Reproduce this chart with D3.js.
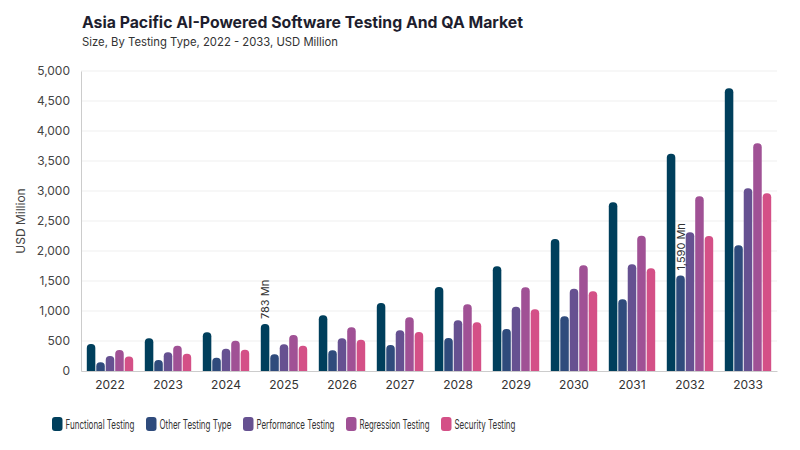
<!DOCTYPE html>
<html>
<head>
<meta charset="utf-8">
<script src="https://cdn.jsdelivr.net/npm/d3@7"></script>
<style>
  body { margin: 0; background: #fff; font-family: Inter, "Noto Sans", sans-serif; }
  svg text { font-family: Inter, "Noto Sans", sans-serif; }
</style>
</head>
<body>
<svg id="chart" width="800" height="450"></svg>
<script>
// data
var years = ["2022","2023","2024","2025","2026","2027","2028","2029","2030","2031","2032","2033"];
var seriesNames = ["Functional Testing", "Other Testing Type", "Performance Testing", "Regression Testing", "Security Testing"];
var functional  = [450, 545, 645, 783, 928, 1133, 1400, 1744, 2200, 2811, 3622, 4711];
var otherType   = [145, 183, 222, 278, 344, 433, 550, 700, 911, 1194, 1590, 2094];
var performance = [250, 311, 372, 444, 544, 678, 844, 1072, 1372, 1778, 2311, 3044];
var regression  = [350, 422, 506, 600, 728, 894, 1111, 1394, 1761, 2256, 2911, 3794];
var security    = [240, 289, 356, 422, 522, 650, 811, 1028, 1328, 1711, 2250, 2961];
var yTicks = [0, 500, 1000, 1500, 2000, 2500, 3000, 3500, 4000, 4500, 5000];
var colors = ["#003f5c", "#2f4b7c", "#665191", "#a05195", "#d45087"];
// annotated bars: [series index, year index]
var annotations = [[0, 3], [1, 10]];

var allSeries = [functional, otherType, performance, regression, security];

var svg = d3.select("#chart");
var margin = {left: 81, right: 23, top: 71, bottom: 79};
var width = 800 - margin.left - margin.right;
var height = 450 - margin.top - margin.bottom;

svg.append("text")
    .attr("x", 82).attr("y", 28)
    .attr("font-size", 16).attr("font-weight", 700).attr("fill", "#1e1e2e")
    .attr("textLength", 441).attr("lengthAdjust", "spacingAndGlyphs")
    .text("Asia Pacific AI-Powered Software Testing And QA Market");
svg.append("text")
    .attr("x", 82).attr("y", 46)
    .attr("font-size", 11.5).attr("fill", "#333")
    .attr("textLength", 256).attr("lengthAdjust", "spacingAndGlyphs")
    .text("Size, By Testing Type, 2022 - 2033, USD Million");

var g = svg.append("g").attr("transform", "translate(" + margin.left + "," + margin.top + ")");

var x0 = d3.scaleBand().domain(years).range([0, width]).paddingInner(0.2).paddingOuter(0.1);
var x1 = d3.scaleBand().domain(d3.range(seriesNames.length)).range([0, x0.bandwidth()]).paddingInner(0.1);
var y = d3.scaleLinear().domain([0, 5000]).range([height, 0]);

// grid
g.selectAll(".grid").data(yTicks.slice(1)).enter().append("line")
    .attr("x1", 0).attr("x2", width)
    .attr("y1", function(d){ return y(d); }).attr("y2", function(d){ return y(d); })
    .attr("stroke", "#efefef").attr("stroke-width", 1);

// y axis
var yAxis = d3.axisLeft(y).tickValues(yTicks).tickSize(0).tickPadding(11)
    .tickFormat(d3.format(","));
var ya = g.append("g").call(yAxis);
ya.select(".domain").attr("stroke", "#cccccc");
ya.selectAll("text").attr("font-size", 12).attr("fill", "#444");

svg.append("text")
    .attr("transform", "translate(25," + (margin.top + height / 2) + ") rotate(-90)")
    .attr("text-anchor", "middle").attr("font-size", 12).attr("fill", "#444")
    .text("USD Million");

// x axis
var xAxis = d3.axisBottom(x0).tickSize(0).tickPadding(9);
var xa = g.append("g").attr("transform", "translate(0," + height + ")").call(xAxis);
xa.select(".domain").attr("stroke", "#cccccc");
xa.selectAll("text").attr("font-size", 12).attr("fill", "#333");

// bars with rounded tops
function topRounded(x, yTop, w, h, r) {
    r = Math.min(r, w / 2, h);
    return "M" + x + "," + (yTop + h) +
        "V" + (yTop + r) +
        "Q" + x + "," + yTop + " " + (x + r) + "," + yTop +
        "H" + (x + w - r) +
        "Q" + (x + w) + "," + yTop + " " + (x + w) + "," + (yTop + r) +
        "V" + (yTop + h) + "Z";
}

var groups = g.selectAll(".yr").data(years).enter().append("g")
    .attr("transform", function(d){ return "translate(" + x0(d) + ",0)"; });

groups.selectAll("path").data(function(d, i){
        return allSeries.map(function(s, k){ return {k: k, v: s[i]}; });
    }).enter().append("path")
    .attr("d", function(d){
        return topRounded(x1(d.k), y(d.v), x1.bandwidth(), height - y(d.v), 4);
    })
    .attr("fill", function(d){ return colors[d.k]; });

// annotations
annotations.forEach(function(a){
    var v = allSeries[a[0]][a[1]];
    var cx = x0(years[a[1]]) + x1(a[0]) + x1.bandwidth() / 2;
    g.append("text")
        .attr("transform", "translate(" + (cx + 4) + "," + (y(v) - 5) + ") rotate(-90)")
        .attr("font-size", 11).attr("fill", "#333")
        .text(d3.format(",")(v) + " Mn");
});

// legend; the reference uses a narrow face, so squeeze each label horizontally
var legendX = [52, 146, 243, 346, 441];
var legendW = [69, 72, 78, 70, 61];
var lg = svg.selectAll(".lg").data(seriesNames).enter().append("g")
    .attr("transform", function(d, i){ return "translate(" + legendX[i] + ",417)"; });
lg.append("rect").attr("width", 10.5).attr("height", 14).attr("rx", 3).attr("y", 0)
    .attr("fill", function(d, i){ return colors[i]; });
lg.append("text")
    .attr("font-size", 12.5).attr("fill", "#333")
    .text(function(d){ return d; })
    .attr("transform", function(d, i){
        var k = legendW[i] / this.getComputedTextLength();
        return "translate(13.5,11.5) scale(" + k + ",1)";
    });
</script>
</body>
</html>
